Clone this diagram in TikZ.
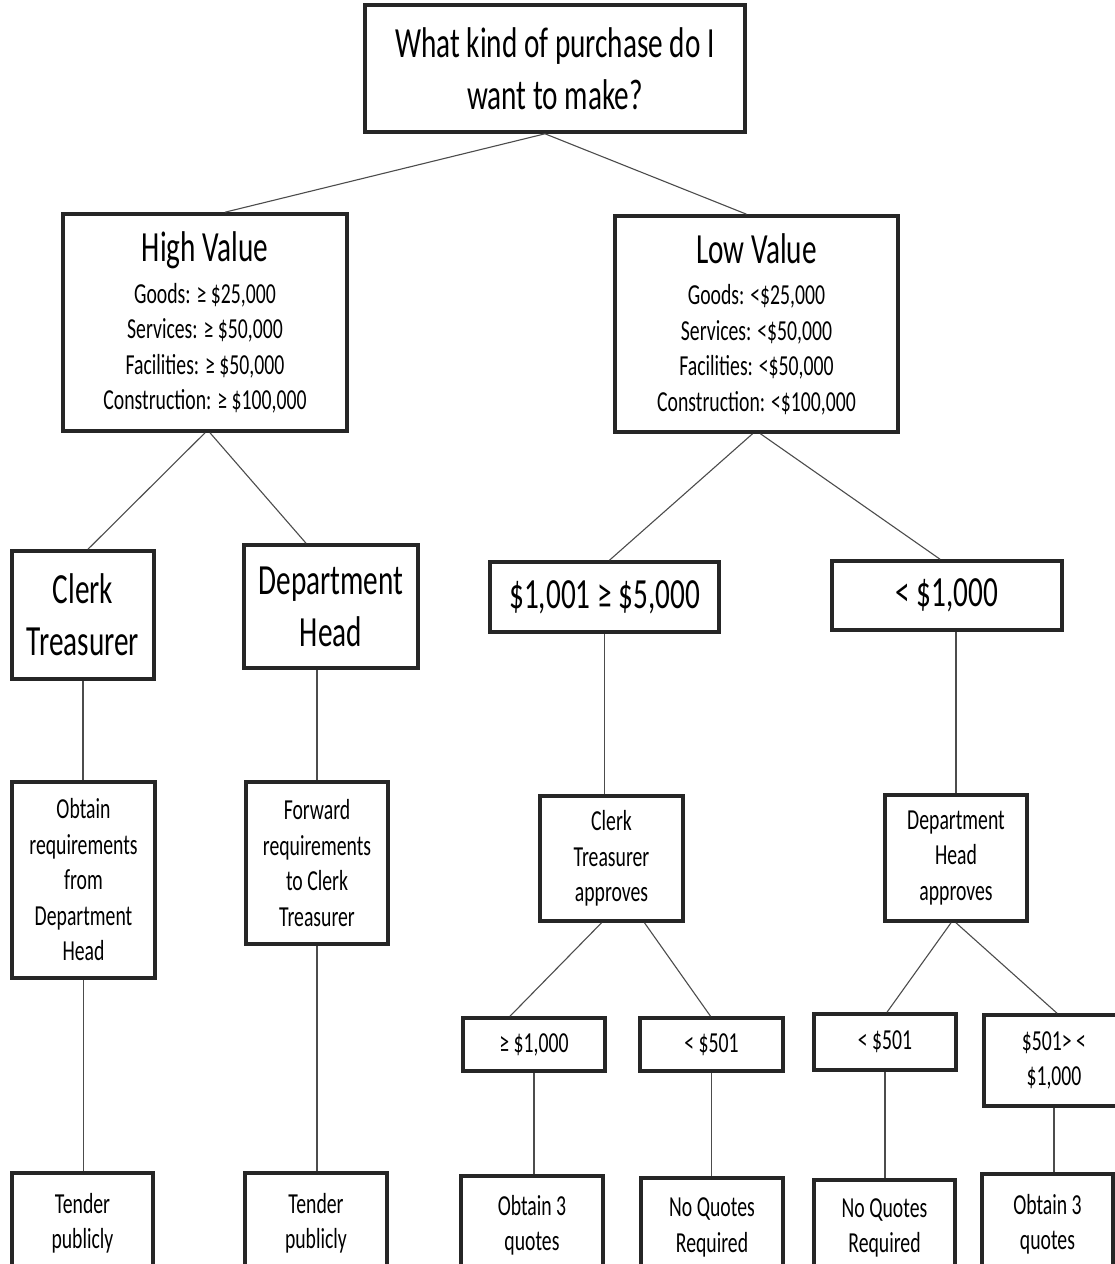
\documentclass[tikz,border=0pt]{standalone}
\usepackage{fontspec}
\setmainfont{Carlito}[FakeStretch=0.68]
\usetikzlibrary{calc}
\newcommand\fbig{\fontsize{43}{52}\selectfont}
\newcommand\fmid{\fontsize{29}{35.5}\selectfont}
\begin{document}
\begin{tikzpicture}[x=1pt,y=-1pt,
  box/.style={draw=black!85,line width=3.6pt,rectangle,inner sep=0pt,align=center,fill=white},
  bigbox/.style={box,font=\fbig},
  smallbox/.style={box,font=\fmid},
  conn/.style={line width=1.1pt,draw=black!70}]
\fill[white] (0,0) rectangle (1115,1264);
\useasboundingbox (0,0) rectangle (1115,1264);

% level 0
\node[bigbox,minimum width=380pt,minimum height=127pt] (top) at (555,68.5)
  {What kind of purchase do I\\want to make?};

% level 1
\node[smallbox,minimum width=284pt,minimum height=217pt] (hv) at (205,322.5)
  {{\fbig High Value}\\[6pt]Goods: ≥ \$25,000\\Services: ≥ \$50,000\\Facilities: ≥ \$50,000\\Construction: ≥ \$100,000};
\node[smallbox,minimum width=283pt,minimum height=216pt] (lv) at (756.5,324)
  {{\fbig Low Value}\\[6pt]Goods: <\$25,000\\Services: <\$50,000\\Facilities: <\$50,000\\Construction: <\$100,000};

% level 2
\node[bigbox,minimum width=142pt,minimum height=128pt] (ct) at (83,615) {Clerk\\Treasurer};
\node[bigbox,minimum width=174pt,minimum height=123pt] (dh) at (331,606.5) {Department\\Head};
\node[bigbox,minimum width=229pt,minimum height=70pt] (r1) at (604.5,597) {\$1,001 ≥ \$5,000};
\node[bigbox,minimum width=230pt,minimum height=69pt] (r2) at (947,595.5) {< \$1,000};

% level 3
\node[smallbox,minimum width=143pt,minimum height=196pt] (ob) at (83.5,880)
  {Obtain\\requirements\\from\\Department\\Head};
\node[smallbox,minimum width=142pt,minimum height=162pt] (fw) at (317,863)
  {Forward\\requirements\\to Clerk\\Treasurer};
\node[smallbox,minimum width=143pt,minimum height=125pt] (cta) at (611.5,858.5)
  {Clerk\\Treasurer\\approves};
\node[smallbox,minimum width=142pt,minimum height=126pt] (dha) at (956,858)
  {Department\\Head\\approves};

% level 4
\node[smallbox,minimum width=142pt,minimum height=53pt] (g1) at (534,1044.5) {≥ \$1,000};
\node[smallbox,minimum width=143pt,minimum height=53pt] (l1) at (711.5,1044.5) {< \$501};
\node[smallbox,minimum width=142pt,minimum height=56pt] (l2) at (885,1042) {< \$501};
\node[smallbox,minimum width=140pt,minimum height=91pt] (m2) at (1054,1060.5) {\$501> <\\\$1,000};

% level 5
\node[smallbox,minimum width=141pt,minimum height=101pt] (t1) at (82.5,1223.5) {Tender\\publicly};
\node[smallbox,minimum width=142pt,minimum height=101pt] (t2) at (316,1223.5) {Tender\\publicly};
\node[smallbox,minimum width=142pt,minimum height=99pt] (q1) at (532,1225.5) {Obtain 3\\quotes};
\node[smallbox,minimum width=142pt,minimum height=99pt] (n1) at (712,1227.5) {No Quotes\\Required};
\node[smallbox,minimum width=141pt,minimum height=96pt] (n2) at (884.5,1228) {No Quotes\\Required};
\node[smallbox,minimum width=131pt,minimum height=101pt] (q2) at (1047.5,1224.5) {Obtain 3\\quotes};

% connectors
\draw[conn] ($(top.south)+(-10,0)$) -- ($(hv.north)+(20,0)$);
\draw[conn] ($(top.south)+(-10,0)$) -- ($(lv.north)+(-10,0)$);
\draw[conn] (hv.south) -- ($(ct.north)+(5,0)$);
\draw[conn] ($(hv.south)+(5,0)$) -- ($(dh.north)+(-25,0)$);
\draw[conn] ($(lv.south)+(-4,0)$) -- ($(r1.north)+(5,0)$);
\draw[conn] ($(lv.south)+(4,0)$) -- ($(r2.north)+(-7,0)$);
\draw[conn] (ct.south) -- (ct.south |- ob.north);
\draw[conn] (fw.north |- dh.south) -- (fw.north);
\draw[conn] (r1.south) -- (r1.south |- cta.north);
\draw[conn] (dha.north |- r2.south) -- (dha.north);
\draw[conn] ($(cta.south)+(-10,0)$) -- ($(g1.north)+(-24,0)$);
\draw[conn] ($(cta.south)+(33,0)$) -- ($(l1.north)+(-1,0)$);
\draw[conn] ($(dha.south)+(-5,0)$) -- ($(l2.north)+(2,0)$);
\draw[conn] (dha.south) -- ($(m2.north)+(3,0)$);
\draw[conn] (ob.south) -- (ob.south |- t1.north);
\draw[conn] (fw.south) -- (fw.south |- t2.north);
\draw[conn] (g1.south) -- (g1.south |- q1.north);
\draw[conn] (l1.south) -- (l1.south |- n1.north);
\draw[conn] (l2.south) -- (l2.south |- n2.north);
\draw[conn] (m2.south) -- (m2.south |- q2.north);
\end{tikzpicture}
\end{document}
